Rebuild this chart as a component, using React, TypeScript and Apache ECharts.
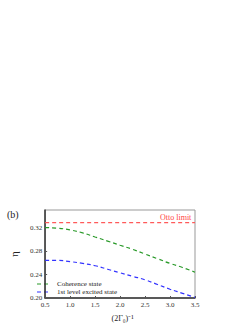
import React, { useEffect, useRef } from "react";
import * as echarts from "echarts";

const xValues = [0.5, 0.75, 1.0, 1.25, 1.5, 1.75, 2.0, 2.25, 2.5, 2.75, 3.0, 3.25, 3.5];
const coherence = [0.320, 0.319, 0.316, 0.311, 0.304, 0.297, 0.290, 0.283, 0.275, 0.267, 0.259, 0.252, 0.244];
const excited = [0.264, 0.264, 0.262, 0.259, 0.255, 0.249, 0.243, 0.237, 0.231, 0.223, 0.215, 0.208, 0.201];
const ottoLimit = 0.3285;
const ottoX = [0.5, 3.5];
const seriesNames = ["Coherence state", "1st level excited state"];
const seriesColors = ["#2a9a2a", "#3333ff"];

const FONT = "Liberation Serif, serif";

export default function App() {
  const ref = useRef<HTMLDivElement>(null);
  useEffect(() => {
    if (!ref.current) return;
    const chart = echarts.init(ref.current, null, { renderer: "svg" });
    const legendGraphics: any[] = [];
    seriesNames.forEach((name, i) => {
      const y = 284 + i * 8;
      legendGraphics.push({
        type: "line",
        shape: { x1: 37, y1: y, x2: 51, y2: y },
        style: { stroke: seriesColors[i], lineWidth: 1.2, lineDash: [4, 3] },
      });
      legendGraphics.push({
        type: "text",
        x: 57,
        y: y,
        style: {
          text: name,
          font: `7px ${FONT}`,
          fill: "#222",
          verticalAlign: "middle",
        },
      });
    });
    chart.setOption({
      animation: false,
      grid: {
        left: 30,
        right: 54,
        top: 210,
        bottom: 21,
        show: true,
        borderColor: "#999",
        borderWidth: 1,
      },
      xAxis: {
        type: "value",
        min: 0.5,
        max: 3.5,
        interval: 0.5,
        name: "(2Γ₀)⁻¹",
        nameLocation: "middle",
        nameGap: 16,
        nameTextStyle: { fontFamily: FONT, fontSize: 8, color: "#222", padding: [0, 0, 0, 5] },
        axisLine: { show: true, lineStyle: { color: "#333", width: 1.5 } },
        axisTick: { show: true, inside: true, length: 2, lineStyle: { color: "#555" } },
        axisLabel: {
          fontFamily: FONT,
          fontSize: 7,
          color: "#333",
          margin: 3,
          formatter: (v: number) => v.toFixed(1),
        },
        splitLine: { show: false },
      },
      yAxis: {
        type: "value",
        min: 0.2,
        max: 0.35,
        interval: 0.04,
        name: "η",
        nameLocation: "middle",
        nameRotate: 90,
        nameGap: 20,
        nameTextStyle: { fontFamily: FONT, fontSize: 11, color: "#222" },
        axisLine: { show: true, lineStyle: { color: "#333", width: 1.5 } },
        axisTick: { show: true, inside: true, length: 2, lineStyle: { color: "#555" } },
        axisLabel: {
          fontFamily: FONT,
          fontSize: 7,
          color: "#333",
          margin: 3,
          showMaxLabel: false,
          formatter: (v: number) => v.toFixed(2),
        },
        splitLine: { show: false },
      },
      graphic: [
        {
          type: "text",
          x: 7,
          y: 209,
          style: { text: "(b)", font: `10px ${FONT}`, fill: "#222" },
        },
        {
          type: "text",
          x: 160,
          y: 213,
          style: { text: "Otto limit", font: `8px ${FONT}`, fill: "#ff4444" },
        },
        ...legendGraphics,
      ],
      series: [
        {
          name: "Otto limit",
          type: "line",
          symbol: "none",
          data: ottoX.map((x) => [x, ottoLimit]),
          lineStyle: { color: "#ff5a5a", width: 1.4, type: [4, 3] },
          silent: true,
        },
        {
          name: seriesNames[0],
          type: "line",
          symbol: "none",
          smooth: true,
          data: xValues.map((x, i) => [x, coherence[i]]),
          lineStyle: { color: seriesColors[0], width: 1.2, type: [4, 3] },
        },
        {
          name: seriesNames[1],
          type: "line",
          symbol: "none",
          smooth: true,
          data: xValues.map((x, i) => [x, excited[i]]),
          lineStyle: { color: seriesColors[1], width: 1.2, type: [4, 3] },
        },
      ],
    });
    return () => chart.dispose();
  }, []);
  return (
    <div
      ref={ref}
      style={{ position: "fixed", left: 0, top: 0, width: 249, height: 323, background: "#fff" }}
    />
  );
}
